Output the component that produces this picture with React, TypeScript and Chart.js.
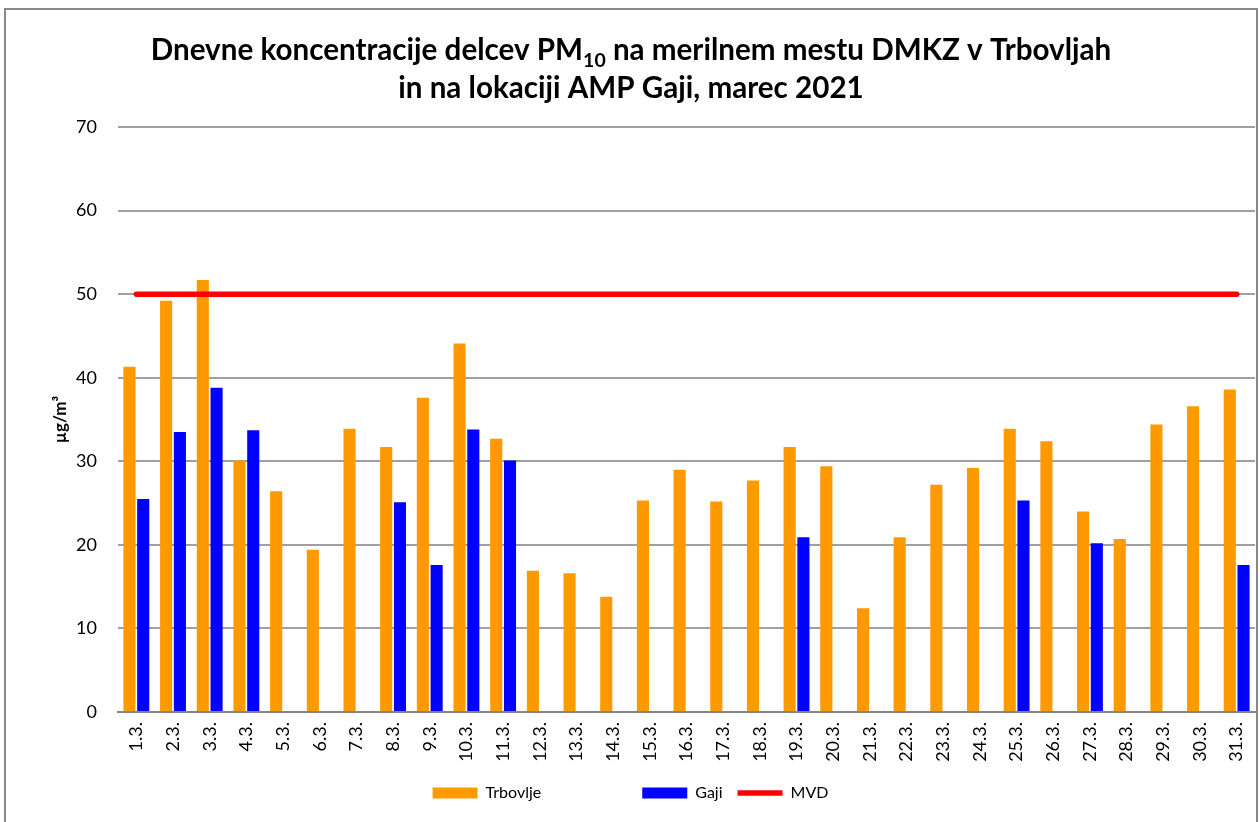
import React, { useEffect, useRef } from "react";
import { Chart, registerables } from "chart.js";

Chart.register(...registerables);

const days = ["1.3.", "2.3.", "3.3.", "4.3.", "5.3.", "6.3.", "7.3.", "8.3.", "9.3.", "10.3.", "11.3.", "12.3.", "13.3.", "14.3.", "15.3.", "16.3.", "17.3.", "18.3.", "19.3.", "20.3.", "21.3.", "22.3.", "23.3.", "24.3.", "25.3.", "26.3.", "27.3.", "28.3.", "29.3.", "30.3.", "31.3."];

const trbovlje = [41.3, 49.2, 51.7, 30.1, 26.4, 19.4, 33.9, 31.7, 37.6, 44.1, 32.7, 16.9, 16.6, 13.8, 25.3, 29.0, 25.2, 27.7, 31.7, 29.4, 12.4, 20.9, 27.2, 29.2, 33.9, 32.4, 24.0, 20.7, 34.4, 36.6, 38.6];

const gaji = [25.5, 33.5, 38.8, 33.7, null, null, null, 25.1, 17.6, 33.8, 30.1, null, null, null, null, null, null, null, 20.9, null, null, null, null, null, 25.3, null, 20.2, null, null, null, 17.6];

const mvd = [50, 50, 50, 50, 50, 50, 50, 50, 50, 50, 50, 50, 50, 50, 50, 50, 50, 50, 50, 50, 50, 50, 50, 50, 50, 50, 50, 50, 50, 50, 50];

const yTicks = [0, 10, 20, 30, 40, 50, 60, 70];

const seriesNames = ["Trbovlje", "Gaji", "MVD"];
const titleLine1A = "Dnevne koncentracije delcev PM";
const titleLine1Sub = "10";
const titleLine1B = " na merilnem mestu DMKZ v Trbovljah";
const titleLine2 = "in na lokaciji AMP Gaji, marec 2021";
const yAxisTitle = "µg/m³";

const FONT = "Lato, 'Open Sans', sans-serif";

const titlePlugin = {
  id: "subscriptTitle",
  afterDraw(chart: any) {
    const ctx = chart.ctx;
    const cx = chart.width / 2;
    const big = `bold 29.6px ${FONT}`;
    const small = `bold 19.5px ${FONT}`;
    ctx.save();
    ctx.fillStyle = "#000";
    ctx.textBaseline = "alphabetic";
    ctx.textAlign = "left";
    ctx.font = big;
    const w1 = ctx.measureText(titleLine1A).width;
    const w3 = ctx.measureText(titleLine1B).width;
    ctx.font = small;
    const w2 = ctx.measureText(titleLine1Sub).width;
    let x = cx - (w1 + w2 + w3) / 2;
    const y1 = 50;
    ctx.font = big;
    ctx.fillText(titleLine1A, x, y1);
    x += w1;
    ctx.font = small;
    ctx.fillText(titleLine1Sub, x, y1 + 7);
    x += w2;
    ctx.font = big;
    ctx.fillText(titleLine1B, x, y1);
    ctx.textAlign = "center";
    ctx.fillText(titleLine2, cx, 88);
    ctx.restore();
  },
};

export default function App() {
  const ref = useRef<HTMLCanvasElement | null>(null);

  useEffect(() => {
    if (!ref.current) return;
    const chart = new Chart(ref.current, {
      type: "bar",
      data: {
        labels: days,
        datasets: [
          {
            type: "bar",
            label: seriesNames[0],
            data: trbovlje,
            backgroundColor: "#FF9900",
            borderWidth: 0,
            pointStyle: "rect",
            order: 1,
            categoryPercentage: 0.75,
            barPercentage: 0.88,
          } as any,
          {
            type: "bar",
            label: seriesNames[1],
            data: gaji,
            backgroundColor: "#0000FF",
            borderWidth: 0,
            pointStyle: "rect",
            order: 1,
            categoryPercentage: 0.75,
            barPercentage: 0.88,
          } as any,
          {
            type: "line",
            label: seriesNames[2],
            data: mvd,
            borderColor: "#FF0000",
            backgroundColor: "#FF0000",
            borderWidth: 5.5,
            borderCapStyle: "round",
            pointRadius: 0,
            pointHoverRadius: 0,
            pointStyle: "line",
            order: 0,
          } as any,
        ],
      },
      options: {
        responsive: false,
        animation: false,
        layout: { padding: { top: 117, right: 1, bottom: 25, left: 0 } },
        plugins: {
          title: { display: false },
          tooltip: { enabled: false },
          legend: {
            position: "bottom",
            labels: {
              usePointStyle: true,
              pointStyleWidth: 45,
              boxHeight: 11,
              padding: 15,
              color: "#000",
              font: { family: FONT, size: 16 },
              sort: (a: any, b: any) => a.datasetIndex - b.datasetIndex,
              generateLabels: (chart: any) => {
                const items = Chart.defaults.plugins.legend.labels.generateLabels(chart);
                return items.map((it: any) =>
                  it.datasetIndex === 0 ? { ...it, text: it.text + " ".repeat(21) } : it
                );
              },
            },
          },
        },
        scales: {
          x: {
            grid: { display: false, drawTicks: false },
            border: { display: true, color: "#868686", width: 2 },
            ticks: {
              autoSkip: false,
              maxRotation: 90,
              minRotation: 90,
              padding: 10,
              color: "#000",
              font: { family: FONT, size: 18 },
            },
            afterFit: (scale: any) => {
              scale.height = 58;
              scale.paddingLeft = 0;
              scale.paddingRight = 0;
            },
          },
          y: {
            min: 0,
            max: 70,
            afterBuildTicks: (scale: any) => {
              scale.ticks = yTicks.map((v) => ({ value: v }));
            },
            grid: { color: "#A0A0A0", lineWidth: 2, drawTicks: false },
            border: { display: false },
            ticks: {
              padding: 21,
              color: "#000",
              font: { family: FONT, size: 18 },
            },
            title: {
              display: true,
              text: yAxisTitle,
              color: "#000",
              font: { family: FONT, size: 17, weight: "bold" },
              padding: { top: 44, bottom: 0 },
            },
            afterFit: (scale: any) => {
              scale.width = 112;
              scale.paddingTop = 0;
              scale.paddingBottom = 0;
            },
          },
        },
      },
      plugins: [titlePlugin],
    });
    return () => chart.destroy();
  }, []);

  return (
    <div
      style={{
        position: "fixed",
        left: 4,
        top: 8,
        width: 1254,
        height: 830,
        border: "2px solid #888",
        boxSizing: "border-box",
        background: "#fff",
      }}
    >
      <canvas ref={ref} width={1250} height={826} style={{ display: "block" }} />
    </div>
  );
}
